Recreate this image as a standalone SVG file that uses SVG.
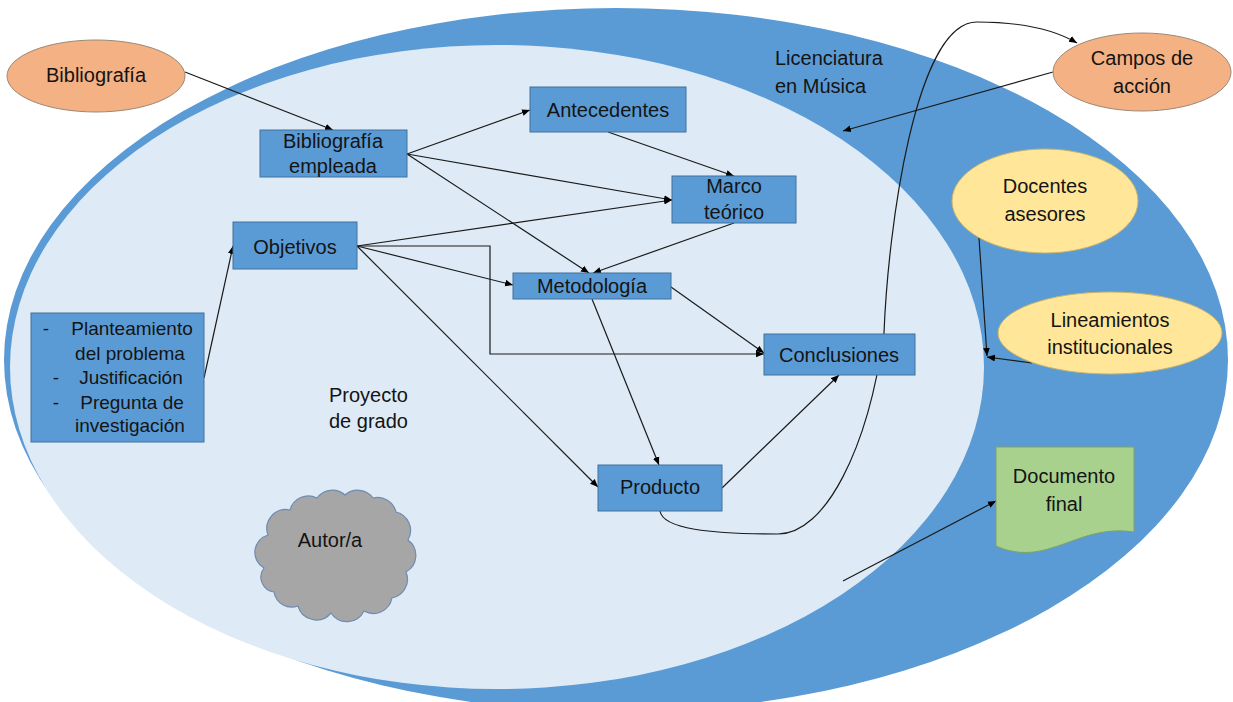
<svg xmlns="http://www.w3.org/2000/svg" width="1233" height="702" viewBox="0 0 1233 702">
<defs>
<style>
.t{font-family:"Liberation Sans",Arial,sans-serif;font-size:20px;fill:#141414;text-anchor:middle}
.ts{font-family:"Liberation Sans",Arial,sans-serif;font-size:19px;fill:#141414;text-anchor:middle}
.tl{font-family:"Liberation Sans",Arial,sans-serif;font-size:20px;fill:#141414;text-anchor:start}
.box{fill:#5B9BD5;stroke:#41719C;stroke-width:1}
.org{fill:#F4B183;stroke:#9C8878;stroke-width:1}
.yel{fill:#FFE699;stroke:#C9B46A;stroke-width:1}
.c{fill:none;stroke:#1a1a1a;stroke-width:1.2}
</style>
<marker id="ah" viewBox="0 0 10 10" refX="10" refY="5" markerWidth="8" markerHeight="8" markerUnits="userSpaceOnUse" orient="auto">
<path d="M0,0.8 L10,5 L0,9.2 z" fill="#000"/>
</marker>
</defs>
<rect width="1233" height="702" fill="#FFFFFF"/>

<g id="licenciatura">
<ellipse cx="616" cy="360" rx="612" ry="352" fill="#5B9BD5"/>
<text class="tl" x="775" y="65">Licenciatura</text>
<text class="tl" x="775" y="93">en Música</text>
</g>

<g id="proyecto">
<ellipse cx="497" cy="367" rx="487" ry="322" fill="#DEEBF7"/>
<text class="tl" x="329" y="402">Proyecto</text>
<text class="tl" x="329" y="428">de grado</text>
</g>

<g id="connectors">
<line class="c" x1="185" y1="72" x2="333" y2="130" marker-end="url(#ah)"/>
<line class="c" x1="407" y1="154" x2="530" y2="110" marker-end="url(#ah)"/>
<line class="c" x1="407" y1="154" x2="672" y2="200" marker-end="url(#ah)"/>
<line class="c" x1="407" y1="154" x2="589" y2="273" marker-end="url(#ah)"/>
<line class="c" x1="608" y1="132" x2="734" y2="176" marker-end="url(#ah)"/>
<line class="c" x1="357" y1="246" x2="672" y2="200" marker-end="url(#ah)"/>
<line class="c" x1="734" y1="223" x2="593" y2="273" marker-end="url(#ah)"/>
<line class="c" x1="357" y1="246" x2="513" y2="285" marker-end="url(#ah)"/>
<path class="c" d="M357,246 H490 V354 H764" marker-end="url(#ah)"/>
<line class="c" x1="357" y1="246" x2="598" y2="487" marker-end="url(#ah)"/>
<line class="c" x1="671" y1="287" x2="764" y2="353" marker-end="url(#ah)"/>
<line class="c" x1="592" y1="299" x2="659" y2="465" marker-end="url(#ah)"/>
<line class="c" x1="722" y1="488" x2="839" y2="375" marker-end="url(#ah)"/>
<line class="c" x1="204" y1="378" x2="233" y2="246" marker-end="url(#ah)"/>
<path class="c" d="M660,511 C663,529 710,534 778,534 C825,534 868,450 884,333 C888,230 915,22 977,22 C1020,22 1055,30 1077,43" marker-end="url(#ah)"/>
<line class="c" x1="1053" y1="72" x2="843" y2="131" marker-end="url(#ah)"/>
<line class="c" x1="979" y1="238" x2="987" y2="356" marker-end="url(#ah)"/>
<line class="c" x1="1032" y1="363" x2="987" y2="357" marker-end="url(#ah)"/>
<line class="c" x1="843" y1="581" x2="996" y2="501" marker-end="url(#ah)"/>
</g>

<g id="bibliografia">
<ellipse class="org" cx="96" cy="76" rx="89" ry="36"/>
<text class="t" x="96" y="82">Bibliografía</text>
</g>

<g id="bibliografia-empleada">
<rect class="box" x="260" y="130" width="147" height="47"/>
<text class="t" x="333" y="148">Bibliografía</text>
<text class="t" x="333" y="173">empleada</text>
</g>

<g id="antecedentes">
<rect class="box" x="530" y="87" width="156" height="45"/>
<text class="t" x="608" y="117">Antecedentes</text>
</g>

<g id="marco-teorico">
<rect class="box" x="672" y="176" width="124" height="47"/>
<text class="t" x="734" y="193">Marco</text>
<text class="t" x="734" y="219">teórico</text>
</g>

<g id="objetivos">
<rect class="box" x="233" y="222" width="124" height="47"/>
<text class="t" x="295" y="254">Objetivos</text>
</g>

<g id="metodologia">
<rect class="box" x="513" y="273" width="158" height="26"/>
<text class="t" x="592" y="293">Metodología</text>
</g>

<g id="planteamiento">
<rect class="box" x="31" y="313" width="173" height="129"/>
<text class="ts" x="46" y="335">-</text>
<text class="ts" x="132" y="335">Planteamiento</text>
<text class="ts" x="130" y="360">del problema</text>
<text class="ts" x="56" y="384">-</text>
<text class="ts" x="131" y="384">Justificación</text>
<text class="ts" x="56" y="409">-</text>
<text class="ts" x="132" y="409">Pregunta de</text>
<text class="ts" x="130" y="432">investigación</text>
</g>

<g id="conclusiones">
<rect class="box" x="764" y="334" width="151" height="41"/>
<text class="t" x="839" y="362">Conclusiones</text>
</g>

<g id="producto">
<rect class="box" x="598" y="465" width="124" height="46"/>
<text class="t" x="660" y="494">Producto</text>
</g>

<g id="campos-de-accion">
<ellipse class="org" cx="1142" cy="72" rx="89" ry="39"/>
<text class="t" x="1142" y="65">Campos de</text>
<text class="t" x="1142" y="93">acción</text>
</g>

<g id="docentes-asesores">
<ellipse class="yel" cx="1045" cy="201" rx="93" ry="52"/>
<text class="t" x="1045" y="193">Docentes</text>
<text class="t" x="1045" y="221">asesores</text>
</g>

<g id="lineamientos">
<ellipse class="yel" cx="1110" cy="333" rx="112" ry="41"/>
<text class="t" x="1110" y="327">Lineamientos</text>
<text class="t" x="1110" y="354">institucionales</text>
</g>

<g id="documento-final">
<path d="M996,447 H1134 V532 C1095,526 1070,545 1040,551 C1020,555 1005,550 996,546 Z" fill="#A9D18E" stroke="#7FA366" stroke-width="1"/>
<text class="t" x="1064" y="483">Documento</text>
<text class="t" x="1064" y="511">final</text>
</g>

<g id="autor">
<path d="M264,568 A18,18 0 0 1 268,535 A19,19 0 0 1 290,510 A19,19 0 0 1 317,498 A19,19 0 0 1 345,495 A19,19 0 0 1 373,498 A19,19 0 0 1 396,512 A19,19 0 0 1 408,540 A19,19 0 0 1 406,572 A19,19 0 0 1 392,598 A19,19 0 0 1 364,611 A19,19 0 0 1 331,613 A19,19 0 0 1 298,606 A18,18 0 0 1 274,592 A15,15 0 0 1 264,568 Z" fill="#A6A6A6" stroke="#6F8BB0" stroke-width="1.2"/>
<text class="t" x="330" y="547">Autor/a</text>
</g>
</svg>
